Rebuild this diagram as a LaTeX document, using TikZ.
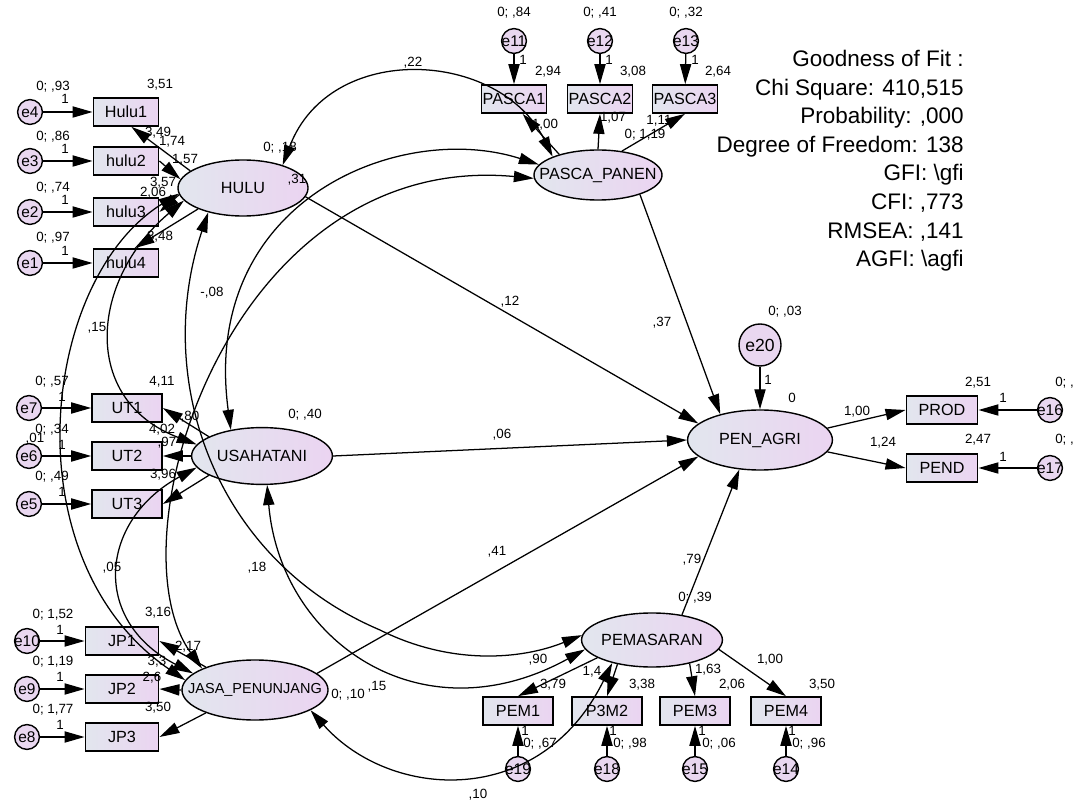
\documentclass[tikz,border=0pt]{standalone}
\usepackage{fontspec}
\setmainfont{Liberation Sans}
\usetikzlibrary{shapes.geometric,arrows.meta}
\definecolor{latL}{RGB}{226,230,238}
\definecolor{latR}{RGB}{235,212,241}
\definecolor{errC}{RGB}{233,215,240}
\tikzset{
  lat/.style={ellipse, draw, line width=1pt, left color=latL, right color=latR, inner sep=0pt,
    label={[font=\fontsize{11.5}{13}\selectfont]center:#1}},
  obs/.style={rectangle, draw, line width=1.2pt, left color=latL, right color=latR, inner sep=0pt,
    minimum width=1.75cm, minimum height=0.7cm, font=\fontsize{11.5}{13}\selectfont},
  err/.style={circle, draw, line width=1pt, fill=errC, inner sep=0pt, minimum size=0.62cm,
    label={[font=\fontsize{11}{12}\selectfont]center:#1}},
  arr/.style={line width=0.9pt, -{Triangle[length=5mm,width=2.8mm]}},
  cov/.style={line width=0.9pt, {Triangle[length=5mm,width=2.8mm]}-{Triangle[length=5mm,width=2.8mm]}},
  lbl/.style={font=\fontsize{9.5}{10}\selectfont, inner sep=0pt},
  gof/.style={font=\fontsize{16}{19}\selectfont, inner sep=0pt}
}
\begin{document}
\begin{tikzpicture}[x=0.025cm, y=-0.025cm]
\useasboundingbox (0,0) rectangle (1081,800);

% latent variables
\node[lat={HULU}, minimum width=3.25cm, minimum height=1.4cm] (hulu) at (243,188) {};
\node[lat={USAHATANI}, minimum width=3.52cm, minimum height=1.42cm] (us) at (262,456) {};
\node[lat={\fontsize{10.3}{12}\selectfont JASA\_PENUNJANG}, minimum width=3.65cm, minimum height=1.5cm] (ja) at (255,690) {};
\node[lat={PASCA\_PANEN}, minimum width=3.2cm, minimum height=1.25cm] (pp) at (598,175) {};
\node[lat={PEN\_AGRI}, minimum width=3.62cm, minimum height=1.5cm] (pa) at (760,440) {};
\node[lat={PEMASARAN}, minimum width=3.52cm, minimum height=1.35cm] (pm) at (652,640) {};

% indicators
\node[obs, minimum width=1.63cm] (hulu1) at (126,112) {Hulu1};
\node[obs, minimum width=1.63cm] (hulu2) at (126,161) {hulu2};
\node[obs, minimum width=1.63cm] (hulu3) at (126,212) {hulu3};
\node[obs, minimum width=1.63cm] (hulu4) at (126,263) {hulu4};
\node[obs] (ut1) at (127,408) {UT1};
\node[obs] (ut2) at (127,456) {UT2};
\node[obs] (ut3) at (127,504) {UT3};
\node[obs, minimum width=1.83cm] (jp1) at (122,641) {JP1};
\node[obs, minimum width=1.83cm] (jp2) at (122,689) {JP2};
\node[obs, minimum width=1.83cm] (jp3) at (122,737) {JP3};
\node[obs, minimum width=1.63cm] (pasca1) at (514,99) {PASCA1};
\node[obs, minimum width=1.63cm] (pasca2) at (600,99) {PASCA2};
\node[obs, minimum width=1.63cm] (pasca3) at (685,99) {PASCA3};
\node[obs] (pem1) at (518,711) {PEM1};
\node[obs] (p3m2) at (607,711) {P3M2};
\node[obs] (pem3) at (695,711) {PEM3};
\node[obs] (pem4) at (786,711) {PEM4};
\node[obs, minimum width=1.78cm] (prod) at (942,410) {PROD};
\node[obs, minimum width=1.78cm] (pend) at (942,468) {PEND};

% errors
\node[err=e4] (e4) at (30,112) {};
\node[err=e3] (e3) at (30,161) {};
\node[err=e2] (e2) at (30,212) {};
\node[err=e1] (e1) at (30,263) {};
\node[err=e7] (e7) at (29,408) {};
\node[err=e6] (e6) at (29,456) {};
\node[err=e5] (e5) at (29,504) {};
\node[err=e10] (e10) at (27,641) {};
\node[err=e9] (e9) at (27,689) {};
\node[err=e8] (e8) at (27,737) {};
\node[err=e11] (e11) at (514,41) {};
\node[err=e12] (e12) at (600,41) {};
\node[err=e13] (e13) at (686,41) {};
\node[err=e19] (e19) at (518,769) {};
\node[err=e18] (e18) at (607,769) {};
\node[err=e15] (e15) at (695,769) {};
\node[err=e14] (e14) at (786,769) {};
\node[err=e16] (e16) at (1050,410) {};
\node[err=e17] (e17) at (1050,468) {};
\node[err={\fontsize{12.5}{13}\selectfont e20}, minimum size=1.05cm] (e20) at (760,345) {};

% error paths
\foreach \e/\o in {e4/hulu1, e3/hulu2, e2/hulu3, e1/hulu4, e7/ut1, e6/ut2, e5/ut3, e10/jp1, e9/jp2, e8/jp3,
  e11/pasca1, e12/pasca2, e13/pasca3, e19/pem1, e18/p3m2, e15/pem3, e14/pem4, e16/prod, e17/pend, e20/pa}
  \draw[arr] (\e) -- (\o);

% loadings
\draw[arr] (hulu.162) -- (hulu1.-70);
\draw[arr] (hulu2.east) -- (hulu.172);
\draw[arr] (hulu.186) -- (hulu3.east);
\draw[arr] (hulu.205) -- (hulu4.60);
\draw[arr] (us.160) -- (ut1.east);
\draw[arr] (us.180) -- (ut2.east);
\draw[arr] (us.200) -- (ut3.east);
\draw[arr] (ja.155) -- (jp1.east);
\draw[arr] (ja.180) -- (jp2.east);
\draw[arr] (ja.205) -- (jp3.east);
\draw[arr] (pp.152) -- (pasca1.-60);
\draw[arr] (pp.90) -- (pasca2.south);
\draw[arr] (pp.45) -- (pasca3.south);
\draw[arr] (pm.198) -- (pem1.north);
\draw[arr] (pm.-145) -- (p3m2.north);
\draw[arr] (pm.-32) -- (pem3.north);
\draw[arr] (pm.-8) -- (pem4.north);
\draw[arr] (pa.10) -- (prod.west);
\draw[arr] (pa.-10) -- (pend.west);

% structural paths
\draw[arr] (hulu.-8) -- (pa.165);
\draw[arr] (us.east) -- (pa.180);
\draw[arr] (ja.15) -- (pa.195);
\draw[arr] (pp.-25) -- (pa.147);
\draw[arr] (pm.40) -- (pa.-125);

% covariances
\draw[cov] (hulu.30) .. controls (330,40) and (500,50) .. (pp.158);
\draw[cov] (us.140) .. controls (200,200) and (400,120) .. (pp.170);
\draw[cov] (pp.183) .. controls (230,150) and (110,540) .. (ja.158);
\draw[cov] (hulu.215) .. controls (152,380) and (215,560) .. (380,630) .. controls (450,665) and (520,660) .. (pm.176);
\draw[cov] (us.-80) .. controls (280,640) and (420,740) .. (pm.188);
\draw[cov] (ja.-20) .. controls (390,800) and (540,810) .. (pm.210);
\draw[cov] (hulu.185) .. controls (40,280) and (10,560) .. (ja.172);
\draw[cov] (hulu.192) .. controls (90,280) and (80,400) .. (us.170);
\draw[cov] (us.190) .. controls (100,520) and (90,620) .. (ja.165);

% estimates
\foreach \x/\y/\t [count=\i] in {
  53/87/{0; ,93}, 65/99/1, 53/137/{0; ,86}, 65/149/1, 53/188/{0; ,74}, 65/200/1, 53/238/{0; ,97}, 65/251/1,
  160/85/{3,51}, 158/133/{3,49}, 172/142/{1,74}, 185/160/{1,57}, 163/183/{3,57}, 153/193/{2,06}, 160/237/{3,48},
  280/148/{0; ,18}, 297/180/{,31}, 212/293/{-,08}, 97/328/{,15}, 510/302/{,12}, 413/63/{,22},
  52/382/{0; ,57}, 62/397/1, 52/430/{0; ,34}, 35/439/{,01}, 62/445/1, 52/477/{0; ,49}, 62/492/1,
  162/382/{4,11}, 190/417/{,80}, 162/430/{4,02}, 167/443/{,97}, 163/475/{3,96},
  305/415/{0; ,40}, 502/435/{,06}, 112/568/{,05}, 257/568/{,18}, 497/552/{,41},
  53/615/{0; 1,52}, 60/630/1, 53/662/{0; 1,19}, 60/677/1, 53/710/{0; 1,77}, 60/725/1,
  158/613/{3,16}, 188/647/{2,17}, 157/662/{3,3}, 152/678/{2,6}, 158/708/{3,50},
  348/695/{0; ,10}, 377/687/{,15}, 478/795/{,10},
  514/13/{0; ,84}, 600/13/{0; ,41}, 686/13/{0; ,32}, 523/60/1, 609/60/1, 695/60/1,
  548/72/{2,94}, 633/72/{3,08}, 718/72/{2,64}, 545/125/{1,00}, 613/118/{1,07}, 659/121/{1,11}, 645/135/{0; 1,19},
  662/323/{,37}, 692/560/{,79},
  792/398/0, 785/312/{0; ,03}, 768/380/1, 857/412/{1,00}, 883/443/{1,24}, 978/383/{2,51}, 978/440/{2,47}, 1003/398/1, 1003/457/1,
  695/598/{0; ,39}, 538/660/{,90}, 553/685/{3,79}, 592/672/{1,4}, 642/685/{3,38}, 708/670/{1,63}, 732/685/{2,06}, 770/660/{1,00}, 822/685/{3,50},
  525/731/1, 613/731/1, 702/731/1, 792/731/1, 540/744/{0; ,67}, 630/744/{0; ,98}, 719/744/{0; ,06}, 809/744/{0; ,96}}
  \node[lbl] (l\i) at (\x,\y) {\t};
\node[lbl, anchor=west] (lprod) at (1055,383) {0; ,};
\node[lbl, anchor=west] (lpend) at (1055,440) {0; ,};

% fit indices
\foreach \t [count=\i] in {{Goodness of Fit :}, {Chi Square: 410,515}, {Probability: ,000}, {Degree of Freedom: 138},
  {GFI: \textbackslash gfi}, {CFI: ,773}, {RMSEA: ,141}, {AGFI: \textbackslash agfi}}
  \node[gof, anchor=base east] (gof\i) at (964,38+28.6*\i) {\t};
\end{tikzpicture}
\end{document}
